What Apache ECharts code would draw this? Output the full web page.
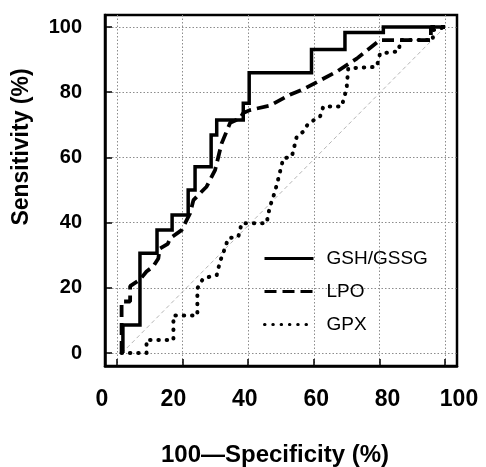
<!DOCTYPE html>
<html><head><meta charset="utf-8">
<script src="https://cdn.jsdelivr.net/npm/echarts@6/dist/echarts.min.js"></script>
<style>html,body{margin:0;padding:0;background:#fff}#c{width:486px;height:467px}</style>
</head><body><div id="c"></div>
<script>
// ---- data ----
const tickValues = [0, 20, 40, 60, 80, 100];
const seriesNames = ['GSH/GSSG', 'LPO', 'GPX'];

const gshX = [1.8, 1.8, 7.0, 7.0, 12.2, 12.2, 16.8, 16.8, 21.7, 21.7, 23.8, 23.8, 28.7, 28.7, 30.4, 30.4, 38.5, 38.5, 40.3, 40.3, 59.3, 59.3, 69.5, 69.5, 81.2, 81.2, 100];
const gshY = [0, 8.6, 8.6, 30.6, 30.6, 37.7, 37.7, 42.3, 42.3, 50.0, 50.0, 57.1, 57.1, 66.9, 66.9, 71.5, 71.5, 76.6, 76.6, 86.0, 86.0, 93.1, 93.1, 98.3, 98.3, 100, 100];

const lpoX = [1.4, 1.4, 4.0, 4.0, 7.0, 9.0, 11.0, 12.6, 13.0, 15.5, 16.2, 19.7, 22.3, 23.3, 26.3, 27.3, 29.9, 31.9, 34.5, 37.5, 38.5, 40.5, 46.6, 52.7, 56.8, 67.0, 73.1, 80.2, 95.7, 95.7, 100];
const lpoY = [0, 15.8, 15.8, 20.5, 22.5, 25.0, 26.5, 29.0, 32.0, 33.5, 35.2, 37.7, 42.9, 46.9, 50.0, 51.0, 56.1, 64.3, 70.6, 72.0, 73.6, 74.5, 75.9, 79.2, 80.9, 86.3, 90.3, 96.0, 96.0, 100, 100];

const gpxX = [1.4, 9.0, 9.0, 17.2, 17.2, 24.5, 24.5, 26.3, 30.4, 31.4, 32.9, 33.9, 37.0, 38.0, 45.6, 46.6, 47.5, 48.7, 50.7, 53.3, 54.8, 56.8, 58.3, 61.9, 62.9, 68.5, 70.0, 70.5, 79.2, 80.2, 85.8, 86.5, 96.3, 96.3, 100];
const gpxY = [0, 0, 4.0, 4.0, 11.5, 11.5, 19.8, 22.9, 23.9, 28.0, 32.1, 35.2, 35.7, 39.8, 39.8, 44.9, 47.4, 51.5, 59.7, 60.2, 66.4, 67.9, 70.4, 72.5, 75.6, 75.6, 81.1, 87.3, 87.8, 91.9, 92.5, 96.0, 96.0, 99.0, 100];

const refX = [1.5, 100];
const refY = [0, 100];

// ---- chart ----
const FONT = "'Liberation Sans', Arial, sans-serif";
const pairs = (xs, ys) => xs.map((x, i) => [x, ys[i]]);

const chart = echarts.init(document.getElementById('c'), null, {renderer: 'canvas'});
chart.setOption({
  animation: false,
  backgroundColor: '#fff',
  grid: [
    {left: 105, top: 15, width: 352, height: 351, show: true, borderColor: '#000', borderWidth: 2.5, backgroundColor: 'transparent'},
    {left: 102, top: 15, width: 357, height: 351, show: false}
  ],
  xAxis: [
    {gridIndex: 0, type: 'value', min: -3.66, max: 103.66,
      axisLine: {show: true, onZero: false, lineStyle: {color: '#000', width: 2.5}},
      axisTick: {show: true, inside: true, length: 7, customValues: tickValues, lineStyle: {color: '#000', width: 1.5}},
      axisLabel: {show: false},
      splitLine: {show: true, lineStyle: {color: '#8c8c8c', type: [1.5, 2], width: 1}}},
    {gridIndex: 1, type: 'value', min: 0, max: 100, interval: 20,
      axisLine: {show: false}, axisTick: {show: false}, splitLine: {show: false},
      axisLabel: {show: true, margin: 22, fontSize: 23, fontWeight: 'bold', color: '#000', fontFamily: FONT}}
  ],
  yAxis: [
    {gridIndex: 0, type: 'value', min: -3.99, max: 103.68,
      axisLine: {show: true, onZero: false, lineStyle: {color: '#000', width: 2.5}},
      axisTick: {show: true, inside: true, length: 7, customValues: tickValues, lineStyle: {color: '#000', width: 1.5}},
      axisLabel: {show: true, customValues: tickValues, margin: 23, fontSize: 20, fontWeight: 'bold', color: '#000', fontFamily: FONT},
      splitLine: {show: true, lineStyle: {color: '#8c8c8c', type: [1.5, 2], width: 1}}},
    {gridIndex: 1, type: 'value', min: 0, max: 100, show: false}
  ],
  legend: {
    orient: 'vertical', left: 263, top: 249, padding: 0, itemWidth: 49, itemHeight: 14, itemGap: 14,
    data: seriesNames, selectedMode: false,
    itemStyle: {opacity: 0},
    lineStyle: {width: 3},
    textStyle: {fontSize: 19, color: '#000', fontFamily: FONT, padding: [0, 0, 0, 8]}
  },
  graphic: [
    {type: 'text', x: 22, y: 147, rotation: Math.PI / 2, silent: true,
      style: {text: 'Sensitivity (%)', font: 'bold 23px ' + FONT, fill: '#000', align: 'center', verticalAlign: 'middle'}},
    {type: 'text', x: 275, y: 455, silent: true,
      style: {text: '100\u2014Specificity (%)', font: 'bold 24px ' + FONT, fill: '#000', align: 'center', verticalAlign: 'middle'}}
  ],
  series: [
    {name: 'ref', type: 'line', xAxisIndex: 0, yAxisIndex: 0, data: pairs(refX, refY), symbol: 'none', silent: true, z: 1,
      lineStyle: {color: '#b5b5b5', width: 1, type: [4, 3]}, itemStyle: {color: '#b5b5b5'}},
    {name: 'GPX', type: 'line', xAxisIndex: 0, yAxisIndex: 0, data: pairs(gpxX, gpxY), symbol: 'none', silent: true, z: 2,
      lineStyle: {color: '#000', width: 4, type: [0.5, 7.8], cap: 'round', join: 'round'}, itemStyle: {color: '#000'}},
    {name: 'LPO', type: 'line', xAxisIndex: 0, yAxisIndex: 0, data: pairs(lpoX, lpoY), symbol: 'none', silent: true, z: 3,
      lineStyle: {color: '#000', width: 3.8, type: [12, 6]}, itemStyle: {color: '#000'}},
    {name: 'GSH/GSSG', type: 'line', xAxisIndex: 0, yAxisIndex: 0, data: pairs(gshX, gshY), symbol: 'none', silent: true, z: 4,
      lineStyle: {color: '#000', width: 3.5, type: 'solid', join: 'miter'}, itemStyle: {color: '#000'}}
  ]
});
</script></body></html>
